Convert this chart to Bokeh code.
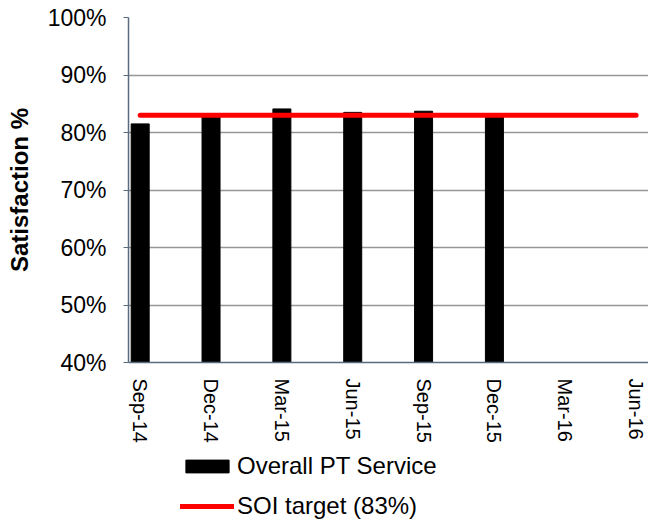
import math
from bokeh.plotting import figure
from bokeh.layouts import column
from bokeh.models import (Range1d, FixedTicker, PrintfTickFormatter, Legend, LegendItem,
                          ColumnDataSource)
from bokeh.embed import file_html
from bokeh.resources import INLINE

# ---- data ----
periods = ["Sep-14", "Dec-14", "Mar-15", "Jun-15", "Sep-15", "Dec-15", "Mar-16", "Jun-16"]
satisfaction = [81.5, 83.0, 84.1, 83.5, 83.7, 82.9]   # Overall PT Service (%)
soi_target = [83, 83, 83, 83, 83, 83, 83, 83]          # SOI target (%)
y_ticks = [40, 50, 60, 70, 80, 90, 100]
series_names = ["Overall PT Service", "SOI target (83%)"]

x_all = list(range(len(periods)))
x_bars = list(range(len(satisfaction)))

bar_src = ColumnDataSource(dict(x=x_bars, top=satisfaction, bottom=[40] * len(satisfaction)))
line_src = ColumnDataSource(dict(x=x_all, y=soi_target))

FONT = "Liberation Sans"
BAR_STYLE = dict(fill_color="black", line_color="black")
LINE_STYLE = dict(line_color="#FF0000", line_width=5, line_cap="round")

p = figure(width=648, height=442, frame_width=520, frame_height=345,
           x_range=Range1d(-0.165, 7.175), y_range=Range1d(40, 100),
           output_backend="svg", toolbar_location=None,
           min_border_left=128, min_border_top=17, min_border_right=0, min_border_bottom=80)
p.outline_line_color = None
p.background_fill_color = "white"

p.vbar(x="x", top="top", bottom="bottom", width=0.254, source=bar_src, **BAR_STYLE)
p.line(x="x", y="y", source=line_src, **LINE_STYLE)

# grid
p.xgrid.grid_line_color = None
p.ygrid.grid_line_color = "#969696"
p.ygrid.grid_line_width = 1.5
p.ygrid.ticker = FixedTicker(ticks=y_ticks)

# y axis
p.yaxis.ticker = FixedTicker(ticks=y_ticks)
p.yaxis.formatter = PrintfTickFormatter(format="%d%%")
p.yaxis.axis_label = "Satisfaction %"
p.yaxis.axis_label_text_font = FONT
p.yaxis.axis_label_text_font_style = "bold"
p.yaxis.axis_label_text_font_size = "24px"
p.yaxis.axis_label_text_color = "black"
p.yaxis.axis_label_standoff = 12
p.yaxis.major_label_text_font = FONT
p.yaxis.major_label_text_font_size = "23px"
p.yaxis.major_label_text_color = "black"
p.yaxis.major_label_standoff = 17
p.yaxis.axis_line_color = "#5A6B80"
p.yaxis.axis_line_width = 1.5
p.yaxis.major_tick_line_color = "#5A6B80"
p.yaxis.major_tick_out = 5
p.yaxis.major_tick_in = 0
p.yaxis.minor_tick_line_color = None

# x axis
p.xaxis.ticker = FixedTicker(ticks=x_all)
p.xaxis.major_label_overrides = {i: s for i, s in enumerate(periods)}
p.xaxis.major_label_orientation = -math.pi / 2
p.xaxis.major_label_text_font = FONT
p.xaxis.major_label_text_font_size = "20px"
p.xaxis.major_label_text_color = "black"
p.xaxis.major_label_standoff = 10
p.xaxis.axis_line_color = "#5A6B80"
p.xaxis.axis_line_width = 1.5
p.xaxis.major_tick_line_color = None
p.xaxis.minor_tick_line_color = None

# ---- legend strip below the chart (its glyphs fall far outside its own ranges) ----
lf = figure(width=648, height=79, x_range=Range1d(1000, 1001), y_range=Range1d(1000, 1001),
            x_axis_type=None, y_axis_type=None, output_backend="svg", toolbar_location=None,
            min_border_left=0, min_border_right=0, min_border_top=0, min_border_bottom=0)
lf.outline_line_color = None
lf.grid.grid_line_color = None
lr_bar = lf.vbar(x="x", top="top", bottom="bottom", width=0.254, source=bar_src, **BAR_STYLE)
lr_line = lf.line(x="x", y="y", source=line_src, **LINE_STYLE)

legend = Legend(items=[LegendItem(label=series_names[0], renderers=[lr_bar]),
                       LegendItem(label=series_names[1], renderers=[lr_line])],
                location=(52, 4), orientation="vertical",
                glyph_width=54, glyph_height=16, label_height=28, label_standoff=3,
                label_text_font=FONT, label_text_font_size="24px",
                label_text_color="black", spacing=12, padding=0, margin=0,
                border_line_color=None, background_fill_alpha=0)
lf.add_layout(legend, "center")

layout = column(p, lf, spacing=0)
open("out.html", "w").write(file_html(layout, INLINE))
